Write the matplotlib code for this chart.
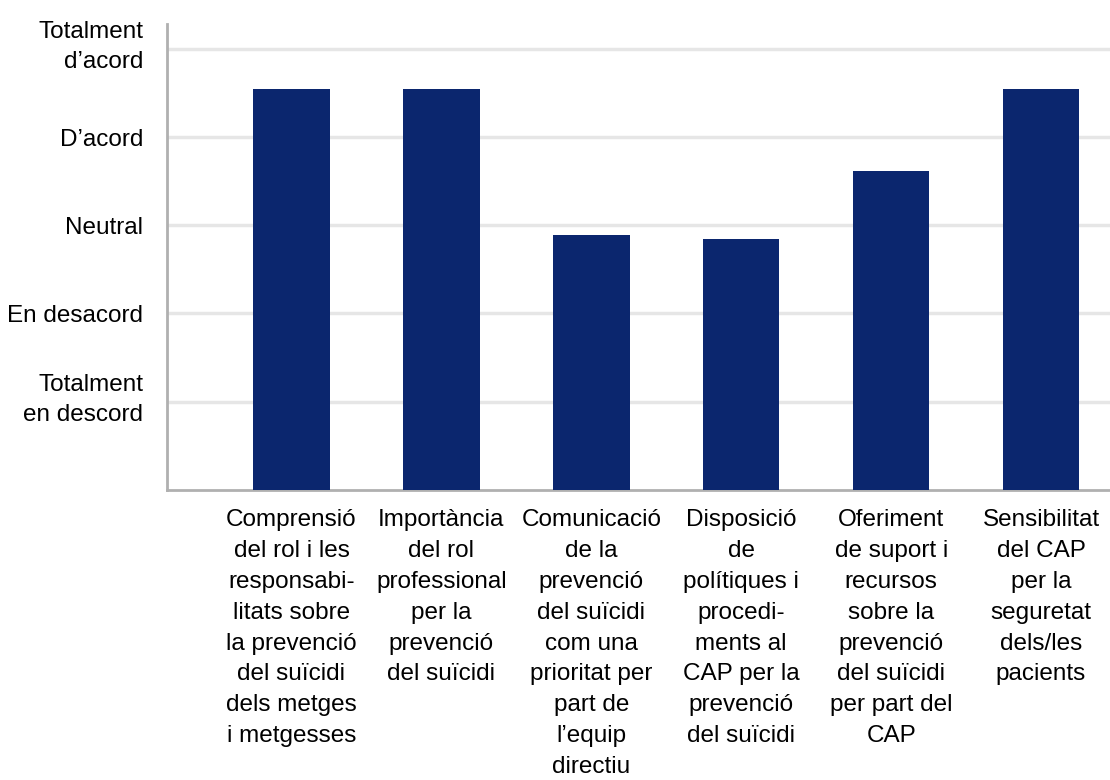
import matplotlib.pyplot as plt
from matplotlib.transforms import ScaledTranslation

plt.rcParams['font.family'] = ['Liberation Sans', 'DejaVu Sans']

# Likert scale levels (1 = totalment en descord ... 5 = totalment d'acord)
scale_values = [1, 2, 3, 4, 5]
scale_labels = ['Totalment\nen descord', 'En desacord', 'Neutral', 'D’acord', 'Totalment\nd’acord']

categories = [
    'Comprensió\ndel rol i les\nresponsabi-\nlitats sobre\nla prevenció\ndel suïcidi\ndels metges\ni metgesses',
    'Importància\ndel rol\nprofessional\nper la\nprevenció\ndel suïcidi',
    'Comunicació\nde la\nprevenció\ndel suïcidi\ncom una\nprioritat per\npart de\nl’equip\ndirectiu',
    'Disposició\nde\npolítiques i\nprocedi-\nments al\nCAP per la\nprevenció\ndel suïcidi',
    'Oferiment\nde suport i\nrecursos\nsobre la\nprevenció\ndel suïcidi\nper part del\nCAP',
    'Sensibilitat\ndel CAP\nper la\nseguretat\ndels/les\npacients',
]
scores = [4.55, 4.55, 2.89, 2.84, 3.62, 4.55]

fig = plt.figure(figsize=(11.1, 7.8), dpi=100)
ax = fig.add_axes([0.1505, 0.372, 0.8495, 0.597])

x = range(len(categories))
ax.bar(x, scores, width=0.51, color='#0b266e', zorder=3)

ax.set_xlim(-0.83, 5.46)
ax.set_ylim(0, 5.28)

ax.set_yticks(scale_values)
ax.set_yticklabels(scale_labels, fontsize=17.5, linespacing=1.45)
ax.set_xticks(list(x))
ax.set_xticklabels(categories, fontsize=17.5, linespacing=1.52, va='top')
ax.tick_params(axis='y', length=0, pad=17)
ax.tick_params(axis='x', length=0, pad=14)

# two-line scale labels sit a little above their grid line
lift = ScaledTranslation(0, 0.08, fig.dpi_scale_trans)
for lbl in ax.get_yticklabels():
    if '\n' in lbl.get_text():
        lbl.set_transform(lbl.get_transform() + lift)

# light horizontal grid, grey axis lines on left and bottom only
ax.grid(axis='y', color='#e6e6e6', linewidth=2.5, zorder=0)
for side in ['top', 'right']:
    ax.spines[side].set_visible(False)
for side in ['left', 'bottom']:
    ax.spines[side].set_color('#b0b0b0')
    ax.spines[side].set_linewidth(2)

plt.savefig('out.png', dpi=100)
